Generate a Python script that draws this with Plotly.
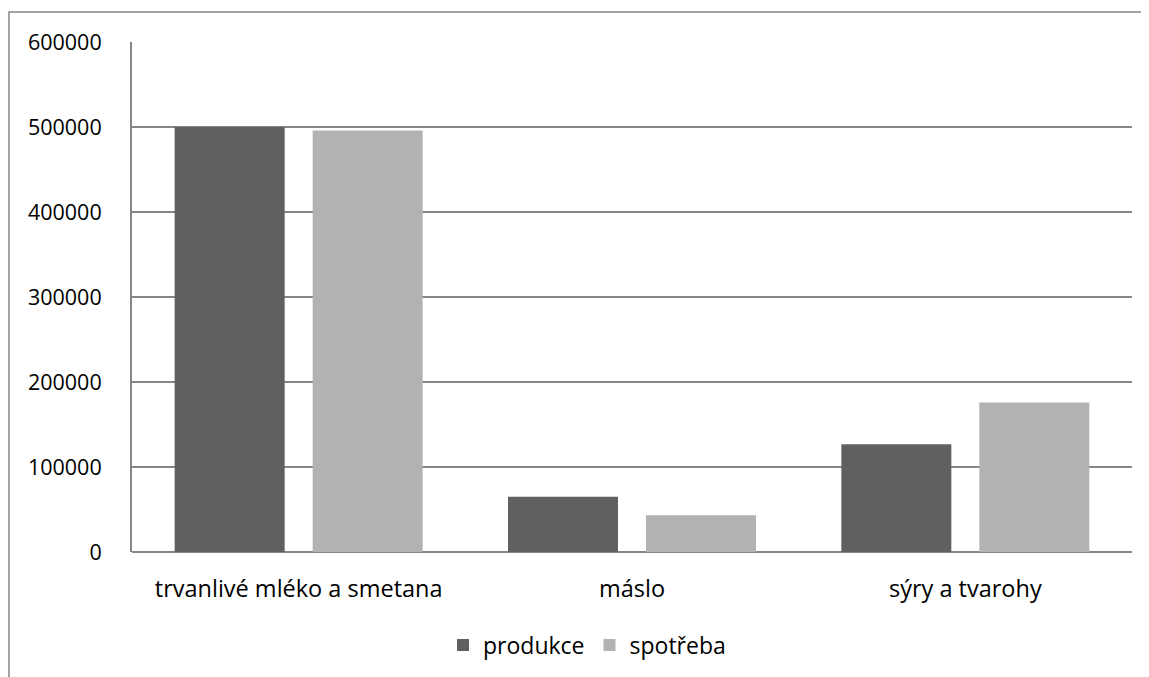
import plotly.graph_objects as go

categories = ["trvanlivé mléko a smetana", "máslo", "sýry a tvarohy"]
produkce = [500000, 65000, 126700]
spotreba = [496000, 43200, 175800]
tick_vals = [0, 100000, 200000, 300000, 400000, 500000, 600000]

FONT = "Open Sans"
OFF = 8  # browser body margin
W, H = 1149 - OFF, 677 - OFF
# desired plot area in window pixels
L, R, T, B = 132, 1132, 42, 553

fig = go.Figure()
fig.add_trace(go.Bar(name="produkce", x=categories, y=produkce,
                     marker=dict(color="#606060", line=dict(width=0))))
fig.add_trace(go.Bar(name="spotřeba", x=categories, y=spotreba,
                     marker=dict(color="#b2b2b2", line=dict(width=0))))

pw, ph = R - L, B - T
def px(x):
    return (x - L) / pw
def py(y):
    return (B - y) / ph

fig.update_layout(
    width=W, height=H,
    margin=dict(l=L - OFF, r=W - (R - OFF), t=T - OFF, b=H - (B - OFF), pad=0),
    plot_bgcolor="white", paper_bgcolor="white",
    barmode="group", bargap=0.172, bargroupgap=0.203,
    font=dict(family=FONT, size=21, color="black"),
    showlegend=True,
    legend=dict(orientation="h", x=px(587), xanchor="center", y=py(645), yanchor="middle",
                font=dict(family=FONT, size=23, color="black"), itemclick=False,
                itemwidth=30, traceorder="normal"),
    shapes=[dict(type="rect", xref="paper", yref="paper",
                 x0=px(9), x1=px(1170), y0=py(700), y1=py(12),
                 line=dict(color="#868686", width=1.5), fillcolor="rgba(0,0,0,0)", layer="below")],
)
fig.update_xaxes(showgrid=False, showline=False, ticks="", ticklabelstandoff=20,
                 tickfont=dict(family=FONT, size=23.5, color="black"))
fig.update_yaxes(range=[0, 600000], tickvals=tick_vals, ticktext=[str(v) for v in tick_vals],
                 showgrid=True, gridcolor="#868686", gridwidth=2,
                 showline=True, linecolor="#868686", linewidth=2,
                 zeroline=True, zerolinecolor="#868686", zerolinewidth=2,
                 ticks="", ticklabelstandoff=24,
                 tickfont=dict(family=FONT, size=21.5, color="black"))

fig.write_html("out.html")
